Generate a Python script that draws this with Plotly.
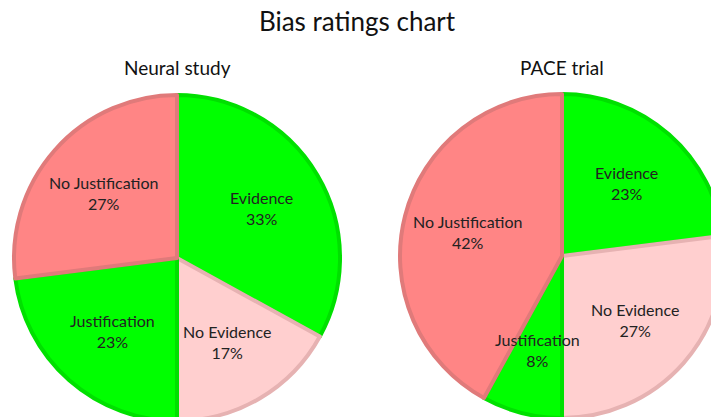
import math
import plotly.graph_objects as go

# ---- data ----
categories = ["Evidence", "No Evidence", "Justification", "No Justification"]
neural_values = [33, 17, 23, 27]
pace_values = [23, 27, 8, 42]
study_names = ["Neural study", "PACE trial"]
chart_title = "Bias ratings chart"

# ---- styles ----
fill_colors = ["#00FF00", "#FFCFCF", "#00FF00", "#FF8585"]
line_colors = ["#00E000", "#E6B2B2", "#00E000", "#E07A7A"]
FONT = "Lato"
TEXT_COLOR = "#222222"

W, H = 726, 422
LABEL_R = 0.6


def px_dom(x0, x1, y0, y1):
    return dict(x=[x0 / W, x1 / W], y=[(H - y1) / H, (H - y0) / H])


pies = [
    (neural_values, px_dom(14, 340, 95, 421), 177),
    (pace_values, px_dom(400, 724, 94, 418), 562),
]

fig = go.Figure()
for vals, dom, title_x in pies:
    fig.add_trace(go.Pie(
        labels=categories,
        values=vals,
        sort=False,
        direction="clockwise",
        rotation=0,
        domain=dom,
        marker=dict(colors=fill_colors, line=dict(color=line_colors, width=4)),
        textinfo="none",
        showlegend=False,
        hoverinfo="label+percent",
    ))
    # label placement derived from the slice angles
    cx = (dom["x"][0] + dom["x"][1]) / 2
    cy = (dom["y"][0] + dom["y"][1]) / 2
    R = min((dom["x"][1] - dom["x"][0]) * W, (dom["y"][1] - dom["y"][0]) * H) / 2
    total = sum(vals)
    cum = 0
    for lab, v in zip(categories, vals):
        mid = (cum + v / 2) / total * 2 * math.pi
        cum += v
        x = cx + LABEL_R * R * math.sin(mid) / W
        y = cy + LABEL_R * R * math.cos(mid) / H
        fig.add_annotation(
            text=f"{lab}<br>{round(v / total * 100)}%",
            x=x, y=y, xref="paper", yref="paper",
            xanchor="center", yanchor="middle", showarrow=False,
            font=dict(family=FONT, size=16, color=TEXT_COLOR),
        )

for name, (_, _, tx) in zip(study_names, pies):
    fig.add_annotation(text=name, x=tx / W, y=(H - 67) / H, xref="paper", yref="paper",
                       xanchor="center", yanchor="middle", showarrow=False,
                       font=dict(family=FONT, size=19, color="#111111"))

fig.update_layout(
    width=W, height=H,
    margin=dict(l=0, r=0, t=0, b=0),
    paper_bgcolor="white",
    title=dict(text=chart_title, x=357 / W, xanchor="center", y=(H - 22) / H, yanchor="middle",
               font=dict(family=FONT, size=26, color="#111111")),
)

fig.write_html("out.html", config={"displayModeBar": False},
               post_script="document.body.style.margin='0';document.body.style.overflow='hidden';document.documentElement.style.overflow='hidden';")
